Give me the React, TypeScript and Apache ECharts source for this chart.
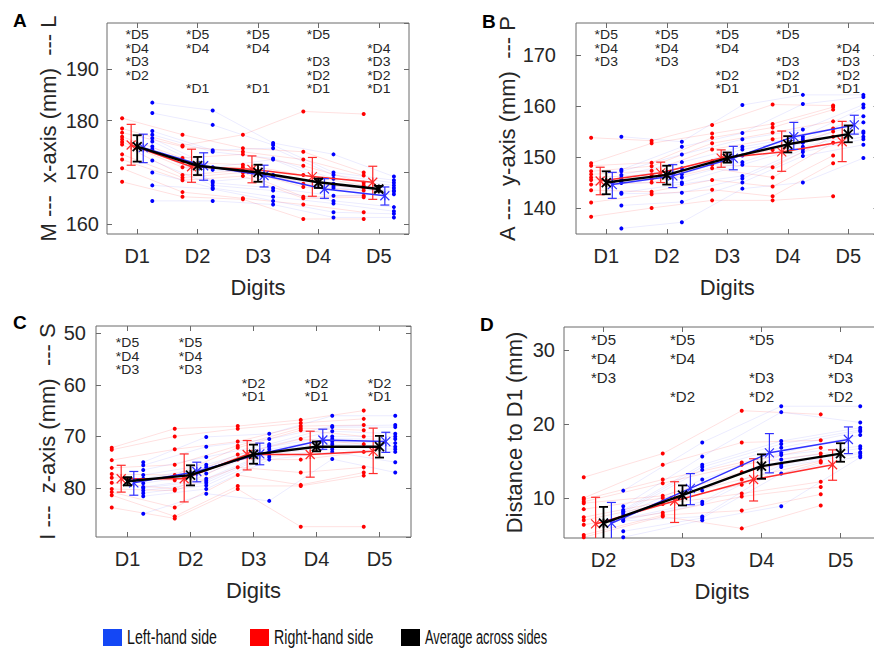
import React, { useEffect, useRef } from "react";
import * as echarts from "echarts";

// ---------- categories ----------
const digits5 = ["D1", "D2", "D3", "D4", "D5"];
const digits4 = ["D2", "D3", "D4", "D5"];

// ---------- Panel A : x-axis (mm), rows = subjects, columns = D1..D5 ----------
const xRight = [
  [180.5, 177.3, 174.7, 174.0, 170.0],
  [178.5, 175.2, 177.3, 181.8, 181.3],
  [177.7, 175.0, 174.0, 172.5, 169.4],
  [176.9, 172.8, 173.5, 171.3, 168.0],
  [176.4, 172.0, 171.5, 169.5, 167.5],
  [175.9, 171.0, 171.0, 167.8, 167.0],
  [175.4, 169.5, 170.4, 167.2, 166.5],
  [173.5, 169.0, 170.0, 165.3, 165.5],
  [172.5, 168.5, 169.3, 165.0, 165.2],
  [170.8, 166.2, 165.0, 163.8, 162.3],
  [168.2, 165.3, 164.8, 161.0, 161.0],
];
const xLeft = [
  [183.5, 182.0, 175.7, 173.5, 169.2],
  [181.5, 179.2, 175.3, 170.0, 168.5],
  [178.0, 174.3, 174.7, 169.5, 168.0],
  [177.3, 174.0, 172.7, 168.8, 167.5],
  [176.6, 171.0, 172.5, 167.8, 167.0],
  [176.0, 170.5, 169.5, 167.4, 166.5],
  [175.0, 168.3, 169.3, 167.0, 166.3],
  [174.5, 168.0, 167.0, 165.5, 165.8],
  [172.3, 167.5, 166.5, 164.5, 163.3],
  [170.0, 167.0, 165.3, 164.0, 162.5],
  [167.5, 166.8, 164.5, 162.3, 162.0],
  [164.5, 164.5, 163.8, 161.3, 161.3],
];
const xRightMean = [175.3, 171.1, 170.6, 169.2, 168.1];
const xRightLo = [171.4, 168.1, 168.0, 165.4, 164.8];
const xRightHi = [179.3, 174.5, 173.2, 172.9, 171.2];
const xLeftMean = [174.8, 171.3, 169.4, 166.8, 165.5];
const xLeftLo = [171.9, 168.5, 167.2, 165.0, 163.7];
const xLeftHi = [177.4, 173.8, 171.4, 168.8, 167.2];
const xAvgMean = [175.0, 171.3, 170.0, 168.1, 166.8];
const xAvgLo = [172.1, 169.5, 168.2, 167.0, 166.3];
const xAvgHi = [177.2, 173.0, 171.5, 168.8, 167.4];
const xAnnot = [
  ["D5", "D4", "D3", "D2"],
  ["D5", "D4", "D1"],
  ["D5", "D4", "D1"],
  ["D5", "D3", "D2", "D1"],
  ["D4", "D3", "D2", "D1"],
];

// ---------- Panel B : y-axis (mm) ----------
const yRight = [
  [153.8, 153.2, 156.3, 160.3, 160.1],
  [148.8, 152.7, 154.6, 156.5, 159.8],
  [148.3, 148.9, 153.8, 155.8, 159.3],
  [147.2, 148.2, 152.7, 154.8, 157.0],
  [146.6, 147.3, 151.5, 153.5, 155.6],
  [146.0, 146.5, 149.2, 151.4, 155.0],
  [145.5, 145.7, 148.5, 148.0, 154.0],
  [144.6, 145.0, 147.8, 146.0, 152.8],
  [143.5, 143.2, 145.5, 144.2, 150.3],
  [141.1, 142.7, 143.6, 142.3, 148.8],
  [138.3, 140.0, 141.5, 141.5, 142.3],
];
const yLeft = [
  [154.0, 153.0, 160.2, 162.2, 162.2],
  [147.5, 152.0, 154.7, 160.4, 161.8],
  [147.2, 150.5, 153.5, 155.4, 160.3],
  [146.5, 149.0, 152.0, 154.0, 159.7],
  [146.0, 147.8, 151.5, 153.5, 158.0],
  [145.5, 146.6, 150.3, 153.0, 156.8],
  [145.2, 146.0, 149.0, 152.8, 155.0],
  [144.9, 145.0, 148.5, 152.0, 154.7],
  [143.0, 144.7, 146.3, 151.5, 154.0],
  [142.8, 143.0, 145.8, 151.0, 153.5],
  [140.5, 141.2, 145.0, 150.2, 152.4],
  [136.0, 137.2, 143.8, 145.0, 149.8],
];
const yRightMean = [145.3, 146.9, 149.8, 151.0, 153.0];
const yRightLo = [142.6, 145.0, 148.0, 147.2, 149.1];
const yRightHi = [148.0, 149.0, 151.4, 155.1, 157.0];
const yLeftMean = [144.6, 146.3, 149.8, 154.0, 156.3];
const yLeftLo = [141.9, 144.0, 147.5, 151.5, 154.5];
const yLeftHi = [147.0, 148.5, 152.1, 156.8, 158.2];
const yAvgMean = [145.0, 146.5, 149.8, 152.5, 154.5];
const yAvgLo = [142.7, 144.6, 148.9, 150.9, 152.9];
const yAvgHi = [147.2, 148.3, 150.9, 154.1, 156.2];
const yAnnot = [
  ["D5", "D4", "D3"],
  ["D5", "D4", "D3"],
  ["D5", "D4", "D2", "D1"],
  ["D5", "D3", "D2", "D1"],
  ["D4", "D3", "D2", "D1"],
];

// ---------- Panel C : z-axis (mm) ----------
const zRight = [
  [72.2, 68.5, 68.0, 66.8, 65.0],
  [72.6, 70.0, 68.5, 67.4, 66.6],
  [74.6, 72.5, 71.0, 68.0, 67.8],
  [76.1, 75.5, 71.8, 68.4, 68.8],
  [77.3, 77.5, 72.2, 68.8, 70.0],
  [78.0, 78.5, 73.5, 70.5, 71.5],
  [79.0, 80.2, 74.5, 74.5, 73.0],
  [80.2, 80.5, 76.0, 77.0, 76.0],
  [80.8, 83.8, 77.5, 79.4, 77.0],
  [81.4, 85.5, 79.6, 79.6, 77.6],
  [83.8, 85.9, 80.2, 87.5, 87.5],
];
const zLeft = [
  [75.0, 70.1, 69.5, 66.0, 66.0],
  [75.6, 72.0, 70.5, 68.0, 67.8],
  [76.5, 74.0, 71.5, 68.2, 68.2],
  [77.5, 75.5, 71.8, 69.0, 69.5],
  [78.2, 76.0, 72.0, 70.0, 70.0],
  [79.1, 77.2, 72.5, 70.5, 70.5],
  [79.8, 78.2, 73.0, 71.0, 71.3],
  [80.0, 78.6, 73.2, 71.5, 72.0],
  [80.5, 79.0, 73.5, 72.0, 72.5],
  [81.0, 79.5, 74.0, 72.5, 73.0],
  [81.6, 80.2, 74.5, 73.0, 75.0],
  [85.0, 81.1, 82.5, 74.4, 77.0],
];
const zRightMean = [78.2, 78.2, 73.5, 73.5, 72.9];
const zRightLo = [75.6, 73.4, 70.8, 69.0, 68.4];
const zRightHi = [80.8, 82.7, 76.5, 77.9, 77.2];
const zLeftMean = [79.0, 76.8, 73.4, 70.7, 71.0];
const zLeftLo = [76.8, 75.0, 71.3, 68.6, 69.2];
const zLeftHi = [81.4, 78.8, 75.5, 72.5, 73.1];
const zAvgMean = [78.7, 77.5, 73.5, 72.0, 72.0];
const zAvgLo = [77.9, 75.6, 71.6, 71.0, 69.9];
const zAvgHi = [79.5, 79.5, 75.3, 72.9, 74.1];
const zAnnot = [
  ["D5", "D4", "D3"],
  ["D5", "D4", "D3"],
  ["D2", "D1"],
  ["D2", "D1"],
  ["D2", "D1"],
];

// ---------- Panel D : distance to D1 (mm), columns = D2..D5 ----------
const dRight = [
  [12.8, 16.0, 21.8, 21.3],
  [10.0, 14.5, 17.5, 17.8],
  [9.8, 12.5, 14.8, 16.8],
  [9.5, 12.0, 14.5, 16.0],
  [9.3, 10.3, 13.5, 15.6],
  [8.5, 10.0, 12.5, 15.0],
  [7.4, 9.5, 11.8, 14.8],
  [7.0, 9.2, 10.6, 12.2],
  [6.4, 8.0, 10.2, 11.5],
  [5.0, 7.7, 8.3, 10.5],
  [4.7, 7.5, 5.9, 9.0],
];
const dLeft = [
  [11.0, 17.5, 22.4, 22.4],
  [8.9, 15.6, 21.6, 20.2],
  [8.4, 14.5, 17.7, 19.5],
  [8.2, 14.2, 17.3, 19.2],
  [8.0, 13.8, 16.8, 19.0],
  [7.8, 12.5, 16.1, 18.5],
  [7.5, 11.0, 15.8, 17.0],
  [7.2, 9.5, 15.2, 16.7],
  [7.0, 9.2, 14.5, 16.2],
  [6.9, 7.5, 14.2, 16.0],
  [5.5, 7.3, 13.3, 15.7],
  [4.7, 7.0, 8.9, 15.5],
];
const dRightMean = [6.5, 9.6, 12.5, 14.5];
const dRightLo = [2.9, 6.7, 9.6, 12.4];
const dRightHi = [10.1, 12.2, 15.3, 16.5];
const dLeftMean = [6.6, 11.3, 16.1, 17.9];
const dLeftLo = [3.8, 9.1, 13.4, 16.0];
const dLeftHi = [9.4, 13.3, 18.7, 19.6];
const dAvgMean = [6.6, 10.4, 14.3, 16.0];
const dAvgLo = [4.4, 9.0, 12.6, 14.9];
const dAvgHi = [8.8, 11.7, 15.9, 17.4];
const dAnnot = [
  ["D5", "D4", "D3"],
  ["D5", "D4", "D2"],
  ["D5", "D3", "D2"],
  ["D4", "D3", "D2"],
];

// ---------- legend ----------
const legendLabels = ["Left-hand side", "Right-hand side", "Average across sides"];

// ---------- styles ----------
const FONT = "'Liberation Sans', Arial, Helvetica, sans-serif";
const AXC = "#6a6a6a";
const TXT = "#262626";
const RED = "#ff0000";
const BLUE = "#0000ff";
const RED_M = "#ff2b2b";
const BLUE_M = "#3030ff";
const RED_F = "rgba(255,0,0,0.12)";
const BLUE_F = "rgba(0,0,255,0.08)";
const NB = "\u00a0";

const panels = [
  {
    letter: "A", letterPos: [13, 20], cats: digits5, x0: 1,
    right: xRight, left: xLeft,
    rm: xRightMean, rlo: xRightLo, rhi: xRightHi,
    lm: xLeftMean, llo: xLeftLo, lhi: xLeftHi,
    am: xAvgMean, alo: xAvgLo, ahi: xAvgHi,
    annot: xAnnot,
    grid: { left: 107, top: 23, width: 302, height: 211 },
    yMin: 158.1, yMax: 198.9, inverse: false,
    yName: `M${NB}---${NB}${NB}x-axis (mm)${NB}${NB}---${NB}L`,
    labelMargin: 8, yNameGap: 48, annotTop: 12, annotStep: 13.5, annotFont: 14, annotSY: 0.85,
  },
  {
    letter: "B", letterPos: [482, 21], cats: digits5, x0: 1,
    right: yRight, left: yLeft,
    rm: yRightMean, rlo: yRightLo, rhi: yRightHi,
    lm: yLeftMean, llo: yLeftLo, lhi: yLeftHi,
    am: yAvgMean, alo: yAvgLo, ahi: yAvgHi,
    annot: yAnnot,
    grid: { left: 576, top: 23, width: 302.5, height: 211 },
    yMin: 134.9, yMax: 176.3, inverse: false,
    yName: `A${NB}---${NB}${NB}y-axis (mm)${NB}${NB}---${NB}P`,
    labelMargin: 20, yNameGap: 50, annotTop: 12, annotStep: 13.5, annotFont: 14, annotSY: 0.85,
  },
  {
    letter: "C", letterPos: [13, 322], cats: digits5, x0: 1,
    right: zRight, left: zLeft,
    rm: zRightMean, rlo: zRightLo, rhi: zRightHi,
    lm: zLeftMean, llo: zLeftLo, lhi: zLeftHi,
    am: zAvgMean, alo: zAvgLo, ahi: zAvgHi,
    annot: zAnnot,
    grid: { left: 96, top: 326, width: 315, height: 211 },
    yMin: 48.6, yMax: 89.5, inverse: true,
    yName: `I${NB}---${NB}${NB}z-axis (mm)${NB}${NB}---${NB}S`,
    labelMargin: 10, yNameGap: 38, annotTop: 17, annotStep: 13.5, annotFont: 14, annotSY: 0.85,
  },
  {
    letter: "D", letterPos: [480, 324], cats: digits4, x0: 2,
    right: dRight, left: dLeft,
    rm: dRightMean, rlo: dRightLo, rhi: dRightHi,
    lm: dLeftMean, llo: dLeftLo, lhi: dLeftHi,
    am: dAvgMean, alo: dAvgLo, ahi: dAvgHi,
    annot: dAnnot,
    grid: { left: 564, top: 327, width: 316, height: 211 },
    yMin: 4.6, yMax: 33.1, inverse: false,
    yName: "Distance to D1 (mm)",
    labelMargin: 9, yNameGap: 39, annotTop: 13, annotStep: 18.7, annotFont: 15, annotSY: 1,
  },
];

function errRender(color: string, lw: number, cap: number, s: number) {
  return (params: any, api: any) => {
    const x = api.value(0);
    const pm = api.coord([x, api.value(1)]);
    const pl = api.coord([x, api.value(2)]);
    const ph = api.coord([x, api.value(3)]);
    const style = { stroke: color, lineWidth: lw, fill: "none" };
    const cx = pm[0];
    return {
      type: "group",
      children: [
        { type: "line", shape: { x1: cx, y1: pl[1], x2: cx, y2: ph[1] }, style },
        { type: "line", shape: { x1: cx - cap, y1: pl[1], x2: cx + cap, y2: pl[1] }, style },
        { type: "line", shape: { x1: cx - cap, y1: ph[1], x2: cx + cap, y2: ph[1] }, style },
        { type: "line", shape: { x1: cx - s, y1: pm[1] - s, x2: cx + s, y2: pm[1] + s }, style },
        { type: "line", shape: { x1: cx - s, y1: pm[1] + s, x2: cx + s, y2: pm[1] - s }, style },
        { type: "line", shape: { x1: cx, y1: pm[1] - s, x2: cx, y2: pm[1] + s }, style },
      ],
    };
  };
}

function buildOption() {
  const grid: any[] = [];
  const xAxis: any[] = [];
  const yAxis: any[] = [];
  const series: any[] = [];
  const graphic: any[] = [];

  panels.forEach((p, pi) => {
    grid.push({ ...p.grid, show: true, borderColor: AXC, borderWidth: 1, backgroundColor: "transparent", containLabel: false });
    const tick = { show: true, inside: true, length: 5, lineStyle: { color: AXC, width: 1 } };
    xAxis.push({
      gridIndex: pi, type: "category", data: p.cats, position: "bottom", boundaryGap: true,
      axisLine: { show: false }, axisTick: { ...tick, alignWithLabel: true },
      axisLabel: { fontSize: 20, color: TXT, margin: 12, fontFamily: FONT },
      splitLine: { show: false },
      name: "Digits", nameLocation: "middle", nameGap: 42,
      nameTextStyle: { fontSize: 22, color: TXT, fontFamily: FONT },
    });
    xAxis.push({
      gridIndex: pi, type: "category", data: p.cats, position: "top", boundaryGap: true,
      axisLine: { show: false }, axisTick: { ...tick, alignWithLabel: true },
      axisLabel: { show: false }, splitLine: { show: false },
    });
    xAxis.push({
      gridIndex: pi, type: "value", min: p.x0 - 0.5, max: 5.5, show: false,
      splitLine: { show: false },
    });
    const yCommon = {
      gridIndex: pi, type: "value", min: p.yMin, max: p.yMax, inverse: p.inverse,
      splitNumber: p.letter === "D" ? 3 : 4, minInterval: 10, maxInterval: 10,
      axisLine: { show: false }, axisTick: tick, splitLine: { show: false },
    };
    yAxis.push({
      ...yCommon, position: "left",
      axisLabel: { fontSize: 20, color: TXT, margin: p.labelMargin, fontFamily: FONT, showMinLabel: false, showMaxLabel: false },
      name: p.yName, nameLocation: "middle", nameGap: p.yNameGap, nameRotate: 90,
      nameTextStyle: { fontSize: 22, color: TXT, fontFamily: FONT },
    });
    yAxis.push({ ...yCommon, position: "right", axisLabel: { show: false } });

    const xi = pi * 3 + 2;
    const yi = pi * 2;

    const subj = (rows: number[][], off: number, dot: string, faint: string) => {
      rows.forEach((row) => {
        series.push({
          type: "line", xAxisIndex: xi, yAxisIndex: yi, silent: true, z: 1,
          data: row.map((v, i) => [p.x0 + i + off, v]),
          symbol: "circle", symbolSize: 4, showSymbol: true, showAllSymbol: true,
          itemStyle: { color: dot, borderWidth: 0 },
          lineStyle: { color: faint, width: 1 }, clip: true,
        });
      });
    };
    subj(p.right, -0.25, RED, RED_F);
    subj(p.left, 0.25, BLUE, BLUE_F);

    const meanLine = (name: string, m: number[], off: number, color: string, w: number, z: number) => {
      series.push({
        name, type: "line", xAxisIndex: xi, yAxisIndex: yi, silent: true, z,
        data: m.map((v, i) => [p.x0 + i + off, v]),
        symbol: "none", lineStyle: { color, width: w }, clip: true,
      });
    };
    const errBars = (m: number[], lo: number[], hi: number[], off: number, color: string, lw: number, z: number) => {
      series.push({
        type: "custom", xAxisIndex: xi, yAxisIndex: yi, silent: true, z, clip: true,
        data: m.map((v, i) => [p.x0 + i + off, v, lo[i], hi[i]]),
        encode: { x: 0, y: [1, 2, 3] },
        renderItem: errRender(color, lw, 4.5, 4.5),
      });
    };
    meanLine(legendLabels[1], p.rm, -0.1, RED_M, 1.5, 3);
    errBars(p.rm, p.rlo, p.rhi, -0.1, RED_M, 1.2, 4);
    meanLine(legendLabels[0], p.lm, 0.1, BLUE_M, 1.5, 5);
    errBars(p.lm, p.llo, p.lhi, 0.1, BLUE_M, 1.2, 6);
    meanLine(legendLabels[2], p.am, 0, "#000000", 2.4, 7);
    errBars(p.am, p.alo, p.ahi, 0, "#000000", 1.8, 8);

    // significance annotations: one multi-line text per digit column
    const cols = p.annot.map((col, ci) => {
      const rows = col.map((lab) => 5 - Number(lab.slice(1)));
      const first = Math.min(...rows);
      const last = Math.max(...rows);
      const lines: string[] = [];
      for (let r = first; r <= last; r++) {
        const k = rows.indexOf(r);
        lines.push(k >= 0 ? "*" + col[k] : NB);
      }
      return { x: p.x0 + ci, first, text: lines.join("\n") };
    });
    const yMid = (p.yMin + p.yMax) / 2;
    series.push({
      type: "custom", xAxisIndex: xi, yAxisIndex: yi, silent: true, z: 9,
      data: cols.map((c) => [c.x, yMid]),
      encode: { x: 0, y: 1 },
      renderItem: (params: any, api: any) => {
        const c = cols[params.dataIndex];
        const pt = api.coord([c.x, yMid]);
        const cs = params.coordSys;
        return {
          type: "text",
          x: pt[0],
          y: cs.y + p.annotTop + c.first * p.annotStep - p.annotStep / 2,
          scaleY: p.annotSY,
          style: {
            text: c.text, x: 0, y: 0,
            align: "center", verticalAlign: "top",
            fontSize: p.annotFont, lineHeight: p.annotStep / p.annotSY, fontFamily: FONT, fill: TXT,
          },
        };
      },
    });

    graphic.push({
      type: "text", x: p.letterPos[0], y: p.letterPos[1],
      style: { text: p.letter, fontSize: 19, fontWeight: "bold", fontFamily: FONT, fill: "#000", verticalAlign: "middle", textVerticalAlign: "middle" },
    });
  });

  // legend
  const legColors = ["#1447f5", "#ff0000", "#000000"];
  const legRectX = [103, 250, 401];
  const legTextX = [127, 274, 425];
  const legScale = [0.71, 0.71, 0.64];
  legendLabels.forEach((lab, i) => {
    graphic.push({ type: "rect", shape: { x: legRectX[i], y: 629, width: 19, height: 17 }, style: { fill: legColors[i] } });
    graphic.push({
      type: "text", x: legTextX[i], y: 637, scaleX: legScale[i],
      style: { text: lab, fontSize: 20, fontFamily: FONT, fill: "#111", verticalAlign: "middle", textVerticalAlign: "middle" },
    });
  });

  return { animation: false, backgroundColor: "#ffffff", grid, xAxis, yAxis, series, graphic };
}

export default function App() {
  const ref = useRef<HTMLDivElement>(null);
  useEffect(() => {
    const chart = echarts.init(ref.current!, undefined, { renderer: "svg" });
    chart.setOption(buildOption() as any);
    return () => chart.dispose();
  }, []);
  return (
    <div style={{ position: "fixed", left: 0, top: 0, width: 874, height: 655, overflow: "hidden", background: "#fff" }}>
      <div ref={ref} style={{ width: 890, height: 655 }} />
    </div>
  );
}
